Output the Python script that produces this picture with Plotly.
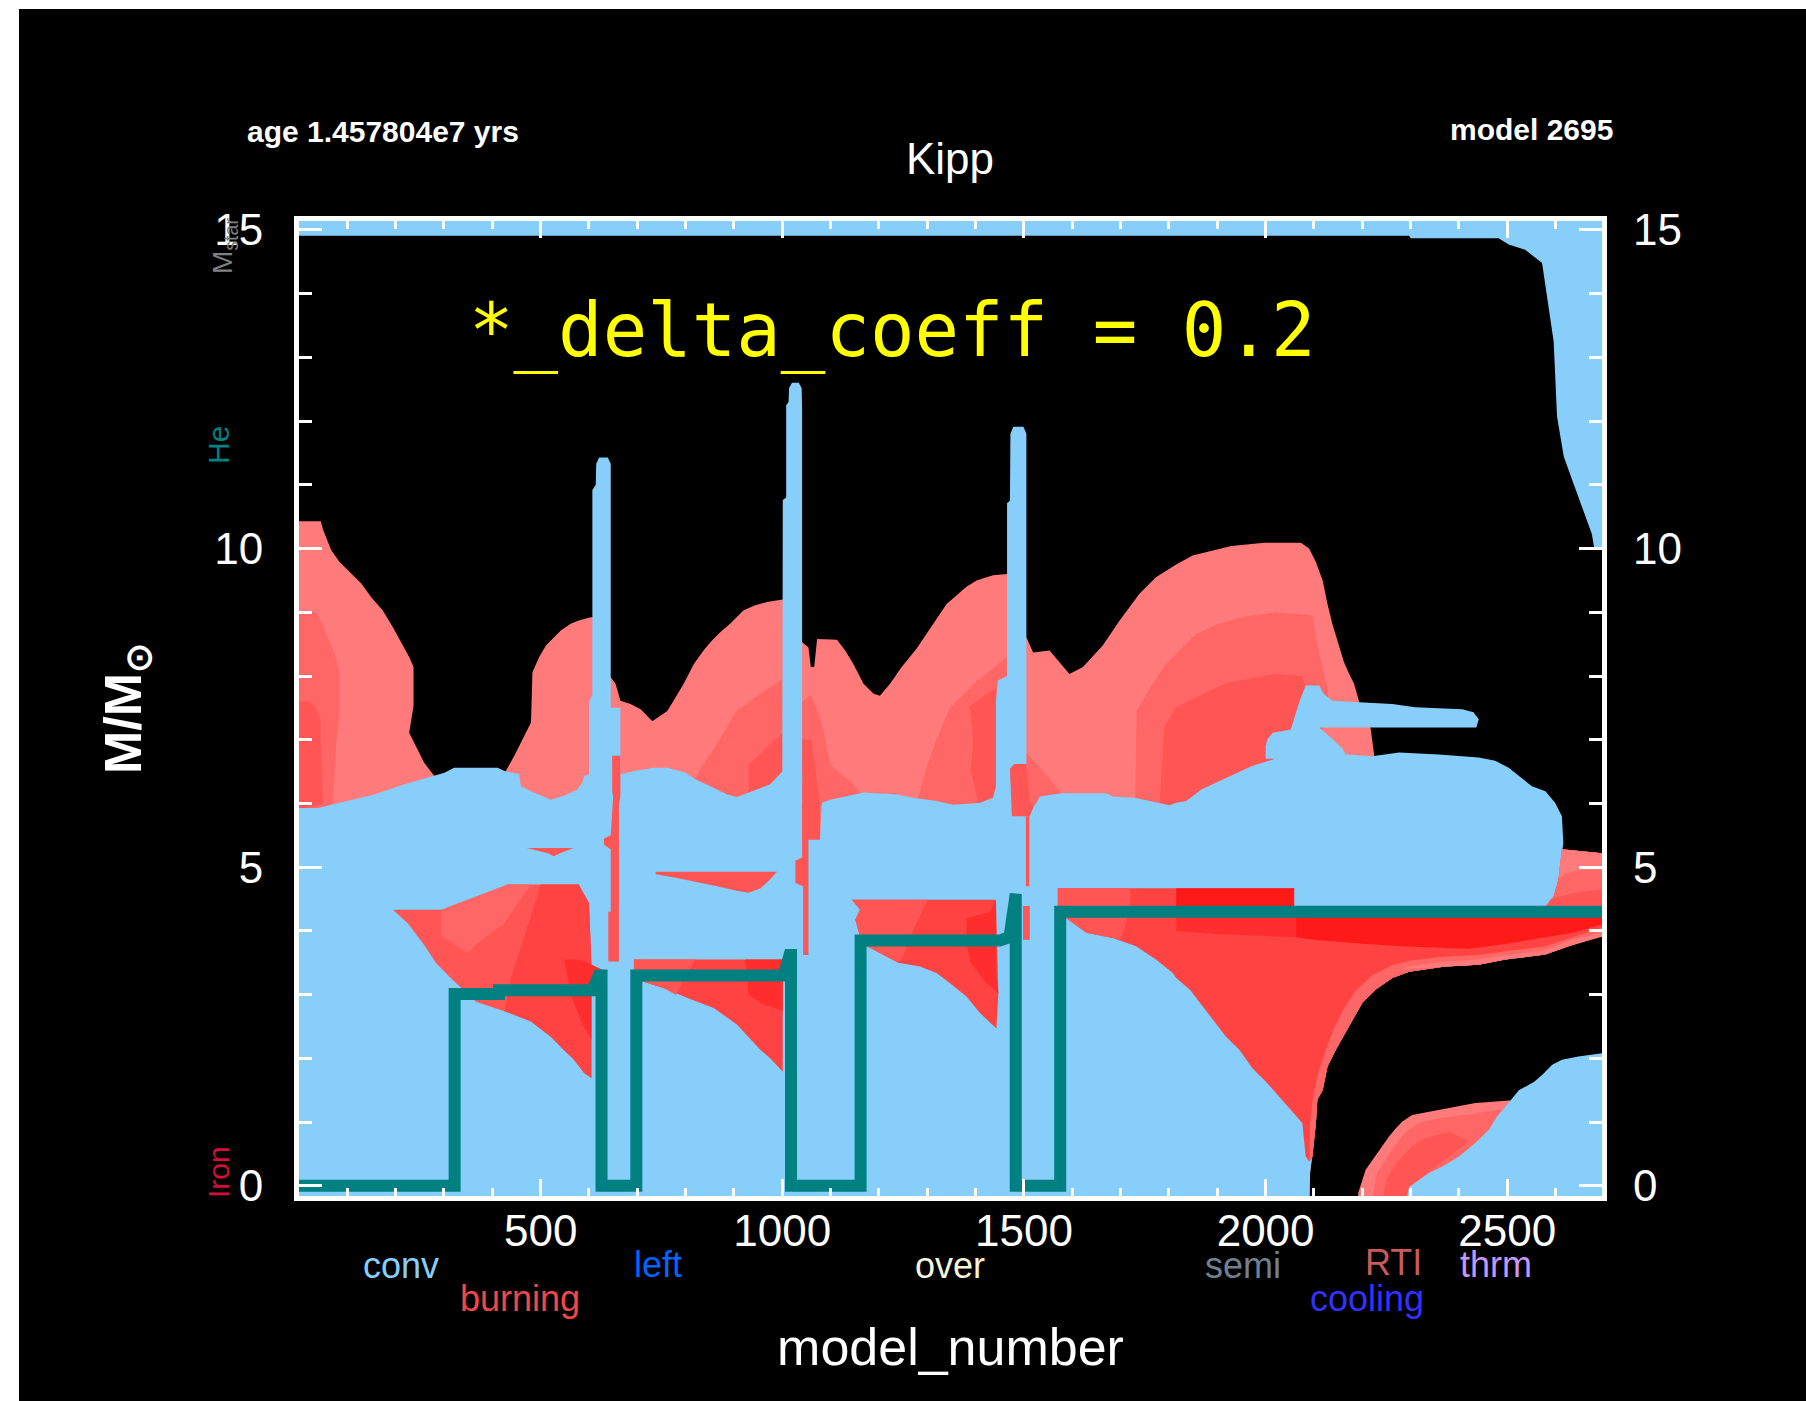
import plotly.graph_objects as go

# ---------------- colours ----------------
CONV = "#87CEFA"
S1 = "#FF7A7A"   # weakest burning
S2 = "#FF6666"
S3 = "#FF5555"
S4 = "#FF4242"
S5 = "#FF2E2E"
S6 = "#FF1A1A"   # strongest burning
TEAL = "#008080"

# ---------------- axis ticks ----------------
x_tick_vals = [500, 1000, 1500, 2000, 2500]
y_tick_vals = [0, 5, 10, 15]

# ---------------- burning envelope (weakest level) ----------------
env_model = [0, 45, 50, 60, 67, 84, 108, 129, 149, 173, 194, 211, 228, 237, 237, 228, 242, 259, 280,
             284, 424, 428, 445, 466, 480, 483, 497, 511, 528, 541, 562, 579, 603, 622, 624, 645, 655,
             665, 686, 707, 731, 762, 775, 796, 817, 837, 855, 872, 892, 906, 920, 944, 968, 1001, 1020,
             1022, 1041, 1054, 1059, 1066, 1072, 1113, 1130, 1147, 1168, 1189, 1202, 1223, 1247, 1278,
             1312, 1340, 1381, 1402, 1436, 1465, 1484, 1486, 1505, 1519, 1553, 1577, 1594, 1622, 1663,
             1698, 1739, 1773, 1815, 1849, 1894, 1929, 1997, 2073, 2090, 2104, 2118, 2128, 2138, 2149,
             2162, 2173, 2183, 2193, 2205, 2217, 2225, 2230, 2605, 2613, 2696,
             2696, 2689, 2627, 2579, 2496, 2441, 2372, 2297, 2262, 2228, 2200, 2180, 2159, 2145, 2128,
             2118, 2107, 2104, 2097, 2092, 2090, 0]
env_mass = [10.43, 10.43, 10.29, 10.10, 9.97, 9.79, 9.61, 9.45, 9.24, 9.03, 8.77, 8.53, 8.30, 8.14, 7.53,
            7.11, 6.90, 6.64, 6.43, 5.90, 5.90, 6.51, 6.74, 7.06, 7.27, 8.06, 8.30, 8.48, 8.61, 8.71,
            8.82, 8.87, 8.92, 8.92, 7.98, 7.98, 7.88, 7.61, 7.56, 7.48, 7.29, 7.45, 7.61, 7.88, 8.19,
            8.40, 8.56, 8.69, 8.82, 8.92, 9.03, 9.11, 9.16, 9.20, 9.20, 8.53, 8.53, 8.45, 8.14, 8.14,
            8.58, 8.57, 8.40, 8.19, 7.88, 7.72, 7.69, 7.88, 8.14, 8.43, 8.82, 9.13, 9.40, 9.50, 9.58,
            9.60, 9.60, 8.61, 8.61, 8.37, 8.40, 8.19, 8.03, 8.14, 8.48, 8.87, 9.29, 9.55, 9.75, 9.89,
            9.97, 10.04, 10.09, 10.09, 10.00, 9.79, 9.50, 9.13, 8.82, 8.56, 8.22, 8.03, 7.88, 7.61,
            7.35, 7.19, 6.74, 5.50, 5.50, 5.28, 5.22,
            3.91, 3.91, 3.76, 3.63, 3.55, 3.47, 3.44, 3.36, 3.26, 3.08, 2.87, 2.60, 2.34, 2.13, 1.87,
            1.50, 1.35, 0.98, 0.51, 0.20, -0.5, -0.5]

# stronger burning shells in the envelope above the convective core
up_a2_model = [0, 35, 50, 63, 74, 84, 84, 77, 70, 40, 0]
up_a2_mass = [9.0, 9.0, 8.8, 8.53, 8.35, 8.03, 7.46, 6.95, 6.0, 5.9, 5.9]
up_a3_model = [0, 20, 35, 45, 45, 50, 0]
up_a3_mass = [7.6, 7.6, 7.5, 7.3, 6.9, 6.0, 5.9]
up_b2_model = [817, 834, 858, 906, 960, 1001, 1001, 906, 851]
up_b2_mass = [6.33, 6.59, 6.85, 7.46, 7.75, 7.95, 6.30, 6.0, 6.1]
up_b3_model = [930, 970, 1001, 1001, 930]
up_b3_mass = [6.6, 6.9, 7.1, 6.3, 6.1]
up_c2_model = [1041, 1060, 1080, 1100, 1147, 1168, 1041]
up_c2_mass = [7.6, 7.7, 7.3, 6.6, 6.3, 6.1, 5.9]
up_c3_model = [1041, 1060, 1078, 1078, 1041]
up_c3_mass = [7.0, 7.0, 6.0, 5.43, 5.43]
up_d2_model = [1347, 1400, 1465, 1465, 1409, 1278, 1300, 1319]
up_d2_mass = [7.50, 7.9, 8.3, 6.0, 5.9, 6.0, 6.6, 7.0]
up_d3_model = [1388, 1420, 1442, 1442, 1409, 1390, 1395]
up_d3_mass = [7.53, 7.7, 7.8, 6.0, 5.9, 6.5, 7.0]
up_e2_model = [1505, 1540, 1594, 1505]
up_e2_mass = [6.8, 6.5, 6.0, 5.9]
up_f2_model = [1733, 1760, 1790, 1815, 1856, 1904, 1953, 2021, 2097, 2104, 2111, 2118, 2128, 2131,
               2111, 2052, 1730]
up_f2_mass = [7.45, 7.8, 8.15, 8.35, 8.66, 8.82, 8.92, 9.0, 8.95, 8.61, 8.35, 8.14, 7.82, 7.46,
              7.0, 6.5, 5.9]
up_f3_model = [1815, 1884, 1925, 1980, 2021, 2076, 2083, 2076, 2059, 2052, 2052, 1780, 1790]
up_f3_mass = [7.51, 7.77, 7.90, 7.98, 8.03, 8.00, 7.82, 7.5, 7.2, 6.85, 6.5, 5.9, 7.2]

# ---------------- convective regions ----------------
core_model = [0, 39, 67, 101, 156, 218, 266, 301, 321, 411, 425, 456, 459, 480, 521, 548, 576, 586,
              590, 602, 665, 693, 734, 762, 800, 820, 851, 886, 906, 930, 975, 1001, 1041, 1041,
              1078, 1082, 1099, 1168, 1237, 1271, 1319, 1354, 1409, 1436, 1443, 1505, 1505, 1526,
              1533, 1577, 1670, 1684, 1729, 1777, 1801, 1815, 1836, 1867, 1904, 1935, 1973, 2015,
              2052, 2111, 2150, 2221, 2276, 2358, 2441, 2475, 2503, 2530, 2551, 2579, 2599, 2613,
              2616, 2606, 2596, 2579, 2579, 2496, 2441, 2372, 2297, 2262, 2228, 2200, 2180, 2159,
              2145, 2128, 2118, 2107, 2104, 2097, 2092, 2090, 0]
core_mass = [5.93, 5.93, 5.98, 6.04, 6.14, 6.30, 6.40, 6.48, 6.56, 6.56, 6.51, 6.46, 6.27, 6.19,
             6.06, 6.12, 6.22, 6.32, 6.43, 6.46, 6.46, 6.51, 6.56, 6.56, 6.48, 6.38, 6.27, 6.14,
             6.10, 6.17, 6.30, 6.51, 6.51, 5.43, 5.43, 6.01, 6.06, 6.17, 6.14, 6.09, 6.04, 5.98,
             6.01, 6.09, 6.30, 6.30, 5.80, 6.01, 6.11, 6.16, 6.16, 6.11, 6.09, 6.01, 5.97, 6.01,
             6.04, 6.22, 6.35, 6.46, 6.59, 6.69, 6.80, 6.80, 6.78, 6.74, 6.80, 6.77, 6.72, 6.67,
             6.56, 6.40, 6.27, 6.19, 6.01, 5.80, 5.38, 4.81, 4.54, 4.40, 3.63, 3.55, 3.47, 3.44,
             3.36, 3.26, 3.08, 2.87, 2.60, 2.34, 2.13, 1.87, 1.50, 1.35, 0.98, 0.51, 0.20, -0.5, -0.5]

spike1_model = [600, 600, 607, 607, 614, 615, 621, 639, 645, 645, 665, 665]
spike1_mass = [6.3, 7.6, 7.7, 10.92, 11.0, 11.33, 11.43, 11.43, 11.33, 7.5, 7.5, 6.3]
spike2_model = [1000, 1001, 1008, 1008, 1013, 1014, 1020, 1034, 1040, 1041, 1041]
spike2_mass = [6.3, 10.76, 10.8, 12.25, 12.3, 12.52, 12.6, 12.6, 12.52, 12.2, 6.3]
spike3_model = [1442, 1442, 1446, 1465, 1465, 1471, 1472, 1478, 1499, 1505, 1505]
spike3_mass = [6.0, 7.6, 7.93, 8.0, 10.71, 10.75, 11.8, 11.91, 11.91, 11.8, 6.0]

tongue_model = [2000, 2004, 2015, 2052, 2063, 2070, 2083, 2111, 2120, 2138, 2193, 2262, 2310, 2407,
                2430, 2441, 2436, 2211, 2111, 2140, 2160, 2165, 2111, 2000]
tongue_mass = [6.9, 7.01, 7.11, 7.16, 7.43, 7.6, 7.85, 7.85, 7.72, 7.61, 7.59, 7.56, 7.51, 7.48,
               7.43, 7.32, 7.19, 7.19, 7.19, 7.0, 6.85, 6.78, 6.7, 6.7]

surface_model = [0, 2696, 2696, 2680, 2675, 2654, 2637, 2617, 2603, 2596, 2586, 2572, 2537, 2503,
                 2482, 2300, 2297, 0]
surface_mass = [15.5, 15.5, 10.0, 10.0, 10.23, 10.65, 11.02, 11.44, 12.07, 13.25, 13.75, 14.48,
                14.69, 14.77, 14.87, 14.87, 14.91, 14.91]

late_core_model = [2283, 2297, 2338, 2365, 2400, 2434, 2462, 2479, 2496, 2524, 2555, 2572, 2593, 2613,
                   2647, 2689, 2696, 2696]
late_core_mass = [-0.5, -0.02, 0.20, 0.30, 0.46, 0.67, 0.88, 1.09, 1.24, 1.50, 1.63, 1.74, 1.90,
                  1.98, 2.03, 2.08, 2.08, -0.5]

# ---------------- burning shells inside the convective core ----------------
wedge_b3_model = [194, 294, 356, 394, 431, 579, 590, 600, 605, 605, 590, 569, 548, 521, 480, 425, 366,
                  328, 314, 283, 259, 225]
wedge_b3_mass = [4.33, 4.33, 4.39, 4.57, 4.73, 4.73, 4.52, 4.44, 3.5, 1.69, 1.77, 1.98, 2.13, 2.34,
                 2.58, 2.74, 2.89, 3.15, 3.26, 3.50, 3.78, 4.12]
wedge_b2_model = [294, 431, 480, 425, 370, 349, 294]
wedge_b2_mass = [4.33, 4.73, 4.73, 4.12, 3.81, 3.65, 3.92]
wedge_b4_model = [500, 579, 600, 605, 605, 590, 569, 548, 521, 480, 425, 440, 470]
wedge_b4_mass = [4.73, 4.73, 4.44, 3.5, 1.69, 1.77, 1.98, 2.13, 2.34, 2.58, 2.74, 3.3, 4.0]
wedge_b5_model = [548, 583, 631, 605, 605, 585, 565]
wedge_b5_mass = [3.55, 3.55, 3.38, 3.0, 2.3, 2.55, 2.95]

wedge_c4_model = [693, 1001, 1001, 975, 955, 930, 906, 858, 813, 755, 710, 693]
wedge_c4_mass = [3.55, 3.55, 1.79, 2.00, 2.13, 2.34, 2.53, 2.79, 2.92, 3.10, 3.21, 3.3]
wedge_c3_model = [693, 820, 800, 780, 755, 710, 693]
wedge_c3_mass = [3.55, 3.55, 3.3, 3.0, 3.10, 3.21, 3.3]
wedge_c5_model = [923, 1001, 1001, 960, 930]
wedge_c5_mass = [3.55, 3.55, 2.75, 2.85, 3.0]

wedge_d4_model = [1144, 1442, 1447, 1443, 1409, 1381, 1347, 1319, 1285, 1240, 1195, 1175, 1161, 1151,
                  1161]
wedge_d4_mass = [4.49, 4.49, 3.02, 2.47, 2.71, 2.97, 3.18, 3.34, 3.44, 3.50, 3.68, 3.76, 3.90, 4.18,
                 4.33]
wedge_d3_model = [1144, 1300, 1270, 1250, 1240, 1195, 1175, 1161, 1151, 1161]
wedge_d3_mass = [4.49, 4.49, 4.0, 3.6, 3.50, 3.68, 3.76, 3.90, 4.18, 4.33]
wedge_d5_model = [1381, 1430, 1442, 1442, 1447, 1420, 1390, 1381]
wedge_d5_mass = [4.20, 4.30, 4.49, 3.30, 3.02, 3.2, 3.5, 3.8]

wedge_e4_model = [1570, 2059, 2059, 2579, 2596, 2606, 2613, 2696, 2696, 2689, 2627, 2579, 2496, 2441,
                  2372, 2297, 2262, 2228, 2200, 2180, 2159, 2145, 2128, 2118, 2107, 2104, 2097, 2090,
                  2083, 2076, 2056, 2028, 2001, 1973, 1946, 1918, 1891, 1867, 1843, 1815, 1808, 1773,
                  1732, 1684, 1629, 1588, 1570]
wedge_e4_mass = [4.67, 4.67, 4.35, 4.35, 4.54, 4.81, 5.28, 5.22, 3.91, 3.91, 3.76, 3.63, 3.55, 3.47,
                 3.44, 3.36, 3.26, 3.08, 2.87, 2.60, 2.34, 2.13, 1.87, 1.50, 1.35, 0.98, 0.45, 0.38,
                 0.46, 0.98, 1.16, 1.40, 1.63, 1.84, 2.13, 2.34, 2.60, 2.84, 3.08, 3.26, 3.34, 3.55,
                 3.76, 3.89, 3.97, 4.20, 4.20]
edge_e2_model = [2696, 2689, 2627, 2579, 2496, 2441, 2372, 2297, 2262, 2228, 2200, 2180, 2159, 2145,
                 2128, 2118, 2107, 2104, 2097, 2090, 2092, 2098, 2108, 2125, 2140, 2160, 2185, 2220,
                 2262, 2297, 2372, 2441, 2496, 2579, 2627, 2696]
edge_e2_mass = [3.91, 3.91, 3.76, 3.63, 3.55, 3.47, 3.44, 3.36, 3.26, 3.08, 2.87, 2.60, 2.34, 2.13,
                1.87, 1.50, 1.35, 0.98, 0.45, 0.40, 0.98, 1.4, 1.75, 2.15, 2.45, 2.75, 3.05, 3.3,
                3.46, 3.53, 3.60, 3.62, 3.68, 3.76, 3.88, 4.05]
edge_e1_model = [2280, 2372, 2441, 2496, 2579, 2627, 2696, 2696, 2627, 2579, 2496, 2441, 2372, 2300]
edge_e1_mass = [3.40, 3.44, 3.47, 3.55, 3.63, 3.76, 3.91, 3.98, 3.84, 3.70, 3.62, 3.55, 3.52, 3.45]
core_e6_model = [2063, 2696, 2696, 2640, 2579, 2500, 2420, 2300, 2200, 2100, 2063]
core_e6_mass = [4.35, 4.35, 4.10, 3.98, 3.90, 3.80, 3.72, 3.75, 3.80, 3.86, 3.90]
core_e5_model = [1815, 2063, 2063, 1900, 1815]
core_e5_mass = [4.35, 4.35, 3.90, 3.95, 4.0]
cap_e6_model = [1815, 2059, 2059, 1815]
cap_e6_mass = [4.67, 4.67, 4.35, 4.35]
cap_e3_model = [1570, 1720, 1720, 1570]
cap_e3_mass = [4.67, 4.67, 4.35, 4.35]
low_e3_model = [1588, 1720, 1700, 1684, 1629, 1588]
low_e3_mass = [4.35, 4.35, 3.85, 3.89, 3.97, 4.20]
top_e2_model = [2579, 2596, 2606, 2613, 2696, 2696]
top_e2_mass = [4.35, 4.54, 4.81, 5.28, 5.22, 4.35]
top_e1_model = [2606, 2613, 2696, 2696, 2650, 2620]
top_e1_mass = [4.81, 5.28, 5.22, 4.95, 4.95, 4.90]
top_e3_model = [2579, 2590, 2640, 2696, 2696]
top_e3_mass = [4.35, 4.5, 4.6, 4.65, 4.35]

sliver1_model = [471, 568, 540, 527, 515]
sliver1_mass = [5.30, 5.30, 5.22, 5.17, 5.22]
sliver2_model = [738, 989, 975, 955, 930, 906, 865, 817, 782, 738]
sliver2_mass = [4.93, 4.93, 4.81, 4.67, 4.60, 4.63, 4.70, 4.78, 4.83, 4.89]
strip1_model = [648, 665, 665, 662, 662, 640, 640, 645, 645, 631, 631, 645, 650, 648]
strip1_mass = [6.75, 6.75, 6.1, 6.0, 3.52, 3.52, 4.3, 4.3, 5.28, 5.35, 5.45, 5.5, 6.1, 6.2]
strip2_model = [1041, 1054, 1054, 1043, 1043, 1027, 1027, 1041]
strip2_mass = [6.0, 6.0, 3.62, 3.62, 4.70, 4.75, 5.10, 5.15]
patch3_model = [1471, 1480, 1505, 1512, 1520, 1512, 1475]
patch3_mass = [6.55, 6.62, 6.62, 6.0, 5.95, 5.80, 5.80]
strip3_model = [1504, 1511, 1511, 1504]
strip3_mass = [5.80, 5.80, 4.70, 4.70]
strip3b_model = [1498, 1512, 1512, 1498]
strip3b_mass = [4.39, 4.39, 3.86, 3.86]

# late shell burning above the final convective core
late_s1_model = [2188, 2192, 2207, 2235, 2255, 2269, 2283, 2303, 2338, 2365, 2400, 2434, 2469, 2503,
                 2530, 2530]
late_s1_mass = [-0.5, -0.1, 0.25, 0.56, 0.77, 0.90, 1.01, 1.11, 1.16, 1.19, 1.24, 1.30, 1.32, 1.34,
                1.34, -0.5]
late_s2_model = [2215, 2230, 2260, 2290, 2320, 2370, 2420, 2470, 2530, 2530]
late_s2_mass = [-0.5, 0.2, 0.55, 0.85, 1.0, 1.07, 1.12, 1.18, 1.22, -0.5]
late_s3_model = [2235, 2250, 2270, 2300, 2330, 2380, 2420, 2350, 2300, 2290]
late_s3_mass = [-0.5, 0.1, 0.35, 0.6, 0.75, 0.85, 0.7, 0.3, 0.0, -0.5]

# ---------------- helium core boundary ----------------
he_model = [0, 322, 322, 414, 414, 607, 620, 626, 626, 698, 698, 1003, 1015, 1018, 1018, 1162, 1162,
            1450, 1470, 1480, 1483, 1483, 1575, 1575, 1773, 1773, 2063, 2063, 2696]
he_mass = [0, 0, 3.01, 3.01, 3.07, 3.07, 3.30, 3.30, 0, 0, 3.30, 3.30, 3.62, 3.62, 0, 0, 3.85,
           3.85, 3.90, 4.58, 4.58, 0, 0, 4.30, 4.30, 4.34, 4.34, 4.30, 4.30]


def region(xs, ys, color):
    return go.Scatter(x=xs, y=ys, fill="toself", fillcolor=color, mode="lines",
                      line=dict(width=0, color=color), hoverinfo="skip", showlegend=False)


fig = go.Figure()

# burning in the envelope
for xs, ys, c in [
    (env_model, env_mass, S1),
    (up_a2_model, up_a2_mass, S2), (up_a3_model, up_a3_mass, S3),
    (up_b2_model, up_b2_mass, S2), (up_b3_model, up_b3_mass, S3),
    (up_c2_model, up_c2_mass, S2), (up_c3_model, up_c3_mass, S3),
    (up_d2_model, up_d2_mass, S2), (up_d3_model, up_d3_mass, S3),
    (up_e2_model, up_e2_mass, S2),
    (up_f2_model, up_f2_mass, S2), (up_f3_model, up_f3_mass, S3),
]:
    fig.add_trace(region(xs, ys, c))

# convective zones
for xs, ys in [(core_model, core_mass), (spike1_model, spike1_mass), (spike2_model, spike2_mass),
               (spike3_model, spike3_mass), (tongue_model, tongue_mass),
               (surface_model, surface_mass)]:
    fig.add_trace(region(xs, ys, CONV))

# burning shells around the helium core
for xs, ys, c in [
    (wedge_b3_model, wedge_b3_mass, S3), (wedge_b2_model, wedge_b2_mass, S2),
    (wedge_b4_model, wedge_b4_mass, S4), (wedge_b5_model, wedge_b5_mass, S5),
    (wedge_c4_model, wedge_c4_mass, S4), (wedge_c3_model, wedge_c3_mass, S3),
    (wedge_c5_model, wedge_c5_mass, S5),
    (wedge_d4_model, wedge_d4_mass, S4), (wedge_d3_model, wedge_d3_mass, S3),
    (wedge_d5_model, wedge_d5_mass, S5),
    (wedge_e4_model, wedge_e4_mass, S4), (edge_e2_model, edge_e2_mass, S2),
    (edge_e1_model, edge_e1_mass, S1),
    (core_e6_model, core_e6_mass, S6), (core_e5_model, core_e5_mass, S5),
    (cap_e6_model, cap_e6_mass, S6), (cap_e3_model, cap_e3_mass, S3),
    (low_e3_model, low_e3_mass, S3),
    (top_e2_model, top_e2_mass, S2), (top_e3_model, top_e3_mass, S3),
    (top_e1_model, top_e1_mass, S1),
    (sliver1_model, sliver1_mass, S3), (sliver2_model, sliver2_mass, S3),
    (strip1_model, strip1_mass, S3), (strip2_model, strip2_mass, S3),
    (patch3_model, patch3_mass, S3), (strip3_model, strip3_mass, S3),
    (strip3b_model, strip3b_mass, S3),
    (late_s1_model, late_s1_mass, S1), (late_s2_model, late_s2_mass, S2),
    (late_s3_model, late_s3_mass, S3),
]:
    fig.add_trace(region(xs, ys, c))

fig.add_trace(region(late_core_model, late_core_mass, CONV))

# helium core mass
fig.add_trace(go.Scatter(x=he_model, y=he_mass, mode="lines",
                         line=dict(color=TEAL, width=12), hoverinfo="skip", showlegend=False))
# right-hand mass scale
fig.add_trace(go.Scatter(x=[None], y=[None], yaxis="y2", showlegend=False, hoverinfo="skip"))

FONT = "Liberation Sans, Arial, sans-serif"
Y_RANGE = [-0.16, 15.14]

fig.update_layout(
    width=1806, height=1401,
    margin=dict(l=299, r=204, t=221, b=205),
    paper_bgcolor="black", plot_bgcolor="black",
    font=dict(family=FONT, color="white"),
    xaxis=dict(range=[0, 2696], showgrid=False, zeroline=False,
               showline=True, linecolor="white", linewidth=5, mirror="ticks",
               ticks="inside", ticklen=17, tickwidth=3, tickcolor="white",
               tickvals=x_tick_vals, ticktext=[str(v) for v in x_tick_vals],
               tickfont=dict(size=44, color="white", family=FONT),
               ticklabelstandoff=-8,
               minor=dict(tickmode="linear", tick0=0, dtick=100, ticks="inside",
                          ticklen=8, tickwidth=3, tickcolor="white"),
               title=dict(text="model_number", font=dict(size=52, color="white", family=FONT),
                          standoff=76)),
    yaxis=dict(range=Y_RANGE, showgrid=False, zeroline=False,
               showline=True, linecolor="white", linewidth=5, mirror="ticks",
               ticks="inside", ticklen=23, tickwidth=3, tickcolor="white",
               tickvals=y_tick_vals, ticktext=[str(v) for v in y_tick_vals],
               tickfont=dict(size=44, color="white", family=FONT),
               ticklabelstandoff=22,
               minor=dict(tickmode="linear", tick0=0, dtick=1, ticks="inside",
                          ticklen=13, tickwidth=3, tickcolor="white"),
               title=dict(text="<b>M/M<sub>⊙</sub></b>",
                          font=dict(size=52, color="white", family=FONT), standoff=58)),
    yaxis2=dict(range=Y_RANGE, overlaying="y", side="right", showgrid=False, zeroline=False,
                showline=False, ticks="", tickvals=y_tick_vals,
                ticktext=[str(v) for v in y_tick_vals],
                tickfont=dict(size=44, color="white", family=FONT), ticklabelstandoff=30),
)


def px(X):
    return (X - 299) / 1303.0


def py(Y):
    return (1196 - Y) / 975.0


notes = [
    ("Kipp", 950, 158, 44, "white", "center", 0, FONT),
    ("<b>age 1.457804e7 yrs</b>", 245, 131, 30, "white", "left", 0, FONT),
    ("<b>model 2695</b>", 1615, 129, 30, "white", "right", 0, FONT),
    ("*_delta_coeff = 0.2", 892, 330, 74, "#FFFF00", "center", 0, "DejaVu Sans Mono, monospace"),
    ("conv", 401, 1265, 36, CONV, "center", 0, FONT),
    ("burning", 520, 1298, 36, "#F04848", "center", 0, FONT),
    ("left", 658, 1264, 36, "#0064FF", "center", 0, FONT),
    ("over", 950, 1265, 36, "#F5F5DC", "center", 0, FONT),
    ("semi", 1243, 1265, 36, "#708090", "center", 0, FONT),
    ("RTI", 1393, 1262, 36, "#C85A5A", "center", 0, FONT),
    ("thrm", 1496, 1264, 36, "#C896FF", "center", 0, FONT),
    ("cooling", 1367, 1298, 36, "#3232FF", "center", 0, FONT),
    ("He", 218, 445, 30, TEAL, "center", -90, FONT),
    ("Iron", 218, 1172, 30, "#D20F3C", "center", -90, FONT),
    ("M<sub>star</sub>", 224, 246, 28, "#808080", "center", -90, FONT),
]
for text, X, Y, size, color, anchor, angle, fam in notes:
    fig.add_annotation(text=text, x=px(X), y=py(Y), xref="paper", yref="paper",
                       xanchor=anchor, yanchor="middle", showarrow=False, textangle=angle,
                       font=dict(size=size, color=color, family=fam))

# white border strips along the left and top edges of the canvas
fig.add_shape(type="rect", xref="paper", yref="paper", x0=px(0), x1=px(19), y0=py(1401), y1=py(0),
              fillcolor="white", line=dict(width=0), layer="above")
fig.add_shape(type="rect", xref="paper", yref="paper", x0=px(0), x1=px(1806), y0=py(9), y1=py(0),
              fillcolor="white", line=dict(width=0), layer="above")

fig.write_html("out.html")
